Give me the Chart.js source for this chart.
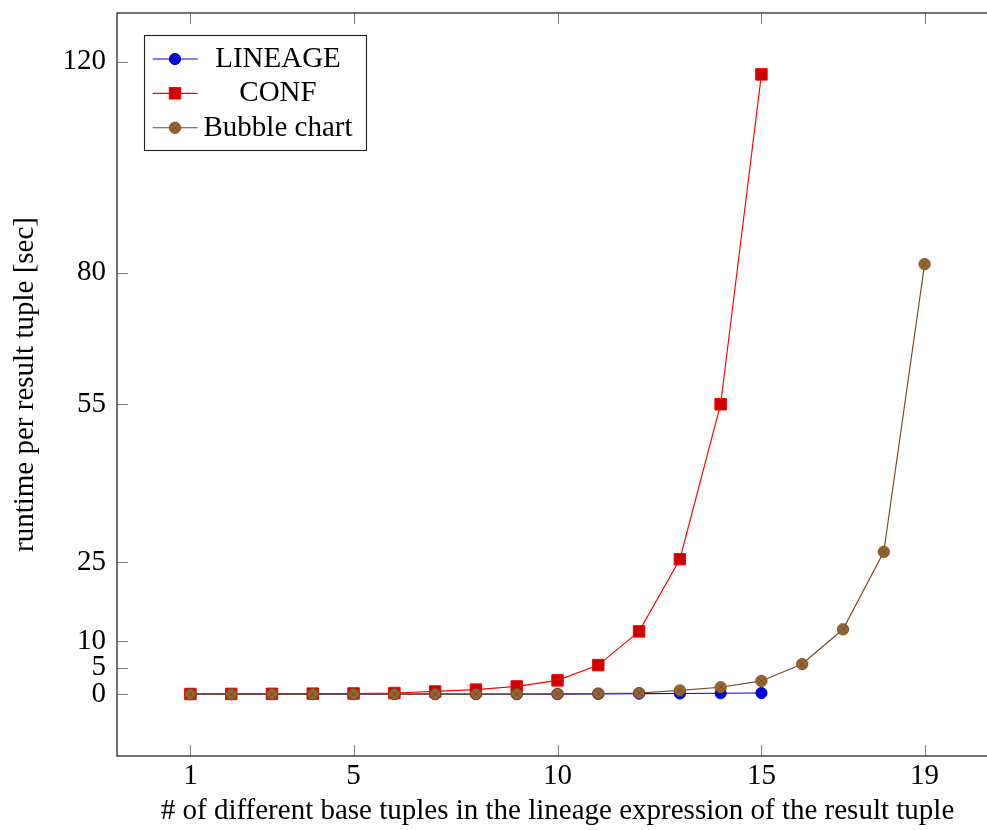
<!DOCTYPE html>
<html><head><meta charset="utf-8">
<script src="https://cdn.jsdelivr.net/npm/chart.js@4.4.1/dist/chart.umd.min.js"></script>
<style>
html,body{margin:0;padding:0;overflow:hidden;background:#fff;width:987px;height:830px}
#wrap{position:absolute;left:0;top:0;width:1000px;height:830px}
</style></head><body>
<div id="wrap"><canvas id="c" width="1000" height="830"></canvas></div>
<script>
// ---- data ----
const xValues = [1,2,3,4,5,6,7,8,9,10,11,12,13,14,15,16,17,18,19];
const lineageValues = [0,0,0,0,0,0,0,0,0,0,0.05,0.08,0.12,0.16,0.2];
const confValues = [0.02,0.03,0.05,0.08,0.12,0.2,0.5,0.85,1.45,2.6,5.5,11.9,25.6,55,117.6];
const bubbleValues = [0,0,0,0,0,0,0,0,0,0.05,0.1,0.2,0.7,1.3,2.5,5.7,12.3,27,81.6];
const xTicks = [1,5,10,15,19];
const yTicks = [0,5,10,25,55,80,120];
const seriesNames = ['LINEAGE','CONF','Bubble chart'];
const xTitle = '# of different base tuples in the lineage expression of the result tuple';
const yTitle = 'runtime per result tuple [sec]';

const FONT = 'Liberation Serif';
const FS = 29;

function pts(vals){ return vals.map((v,i)=>({x:xValues[i], y:v})); }

function makeOtimes(r, fill, stroke){
  const s = 16;
  const c = document.createElement('canvas');
  c.width = s; c.height = s;
  const g = c.getContext('2d');
  const cx = s/2, cy = s/2;
  g.beginPath(); g.arc(cx, cy, r, 0, Math.PI*2);
  g.fillStyle = fill; g.fill();
  g.lineWidth = 1; g.strokeStyle = stroke; g.stroke();
  const d = r*0.7071;
  g.beginPath();
  g.moveTo(cx-d, cy-d); g.lineTo(cx+d, cy+d);
  g.moveTo(cx+d, cy-d); g.lineTo(cx-d, cy+d);
  g.stroke();
  return c;
}
const otimes = makeOtimes(5.6, 'rgb(153,102,51)', 'rgb(115,77,38)');

const frameTicks = {
  id: 'frameTicks',
  afterDatasetsDraw(chart){
    const {ctx, chartArea:a, scales} = chart;
    ctx.save();
    ctx.strokeStyle = 'rgb(128,128,128)';
    ctx.lineWidth = 1;
    const L = 11;
    ctx.beginPath();
    xTicks.forEach(v=>{
      const px = Math.round(scales.x.getPixelForValue(v)) + 0.5;
      ctx.moveTo(px, a.bottom); ctx.lineTo(px, a.bottom - L);
      ctx.moveTo(px, a.top); ctx.lineTo(px, a.top + L);
    });
    yTicks.forEach(v=>{
      const py = Math.round(scales.y.getPixelForValue(v)) + 0.5;
      ctx.moveTo(a.left, py); ctx.lineTo(a.left + L, py);
      ctx.moveTo(a.right, py); ctx.lineTo(a.right - L, py);
    });
    ctx.stroke();
    ctx.strokeStyle = 'rgb(40,40,40)';
    ctx.lineWidth = 1.3;
    ctx.strokeRect(a.left, a.top, a.right - a.left, a.bottom - a.top);
    ctx.restore();
  }
};

const legendBox = {
  id: 'legendBox',
  afterDraw(chart){
    const ctx = chart.ctx;
    const x0 = 144.5, y0 = 35.5, w = 222, h = 115;
    ctx.save();
    ctx.fillStyle = '#fff';
    ctx.fillRect(x0, y0, w, h);
    ctx.strokeStyle = 'rgb(30,30,30)';
    ctx.lineWidth = 1.1;
    ctx.strokeRect(x0, y0, w, h);
    const rows = [59, 93.3, 127.7];
    chart.data.datasets.forEach((ds, i)=>{
      const y = rows[i];
      ctx.strokeStyle = ds.borderColor;
      ctx.lineWidth = 1.15;
      ctx.beginPath(); ctx.moveTo(152.7, y); ctx.lineTo(197.7, y); ctx.stroke();
      const mx = 175;
      if (ds.pointStyle === 'circle'){
        ctx.beginPath(); ctx.arc(mx, y, ds.pointRadius, 0, Math.PI*2);
        ctx.fillStyle = ds.pointBackgroundColor; ctx.fill();
        ctx.strokeStyle = ds.pointBorderColor; ctx.lineWidth = 1; ctx.stroke();
      } else if (ds.pointStyle === 'rect'){
        const hs = ds.pointRadius*Math.SQRT1_2;
        ctx.fillStyle = ds.pointBackgroundColor;
        ctx.fillRect(mx-hs, y-hs, 2*hs, 2*hs);
        ctx.strokeStyle = ds.pointBorderColor; ctx.lineWidth = 1;
        ctx.strokeRect(mx-hs, y-hs, 2*hs, 2*hs);
      } else {
        ctx.drawImage(ds.pointStyle, mx - ds.pointStyle.width/2, y - ds.pointStyle.height/2);
      }
      ctx.fillStyle = '#000';
      ctx.font = FS + 'px "' + FONT + '"';
      ctx.textAlign = 'center';
      ctx.textBaseline = 'alphabetic';
      ctx.fillText(ds.label, 278, y + 8);
    });
    ctx.restore();
  }
};

new Chart(document.getElementById('c'), {
  type: 'line',
  data: {
    datasets: [
      { label: seriesNames[0], data: pts(lineageValues), order: 2,
        borderColor: 'rgb(0,0,255)', borderWidth: 1.15,
        pointStyle: 'circle', pointRadius: 5.6,
        pointBackgroundColor: 'rgb(0,0,204)', pointBorderColor: 'rgb(0,0,255)', pointBorderWidth: 1 },
      { label: seriesNames[1], data: pts(confValues), order: 1,
        borderColor: 'rgb(255,0,0)', borderWidth: 1.15,
        pointStyle: 'rect', pointRadius: 8.1,
        pointBackgroundColor: 'rgb(204,0,0)', pointBorderColor: 'rgb(255,0,0)', pointBorderWidth: 1 },
      { label: seriesNames[2], data: pts(bubbleValues), order: 0,
        borderColor: 'rgb(115,77,38)', borderWidth: 1.15,
        pointStyle: otimes, pointRadius: 5.6,
        pointBackgroundColor: 'rgb(153,102,51)', pointBorderColor: 'rgb(115,77,38)', pointBorderWidth: 1 }
    ]
  },
  options: {
    responsive: false,
    animation: false,
    events: [],
    layout: { autoPadding: false, padding: { top: 13, right: 2, left: 0, bottom: 0 } },
    plugins: { legend: { display: false }, tooltip: { enabled: false } },
    elements: { line: { tension: 0 } },
    scales: {
      x: {
        type: 'linear', min: -0.8, max: 20.8,
        afterBuildTicks: s => { s.ticks = xTicks.map(v => ({ value: v })); },
        afterFit: s => { s.height = 74; s.paddingLeft = 0; s.paddingRight = 0; },
        grid: { display: false, drawTicks: false },
        border: { display: false },
        ticks: { color: '#000', font: { family: FONT, size: FS }, padding: 3, maxRotation: 0, autoSkip: false,
                 callback: v => String(v) },
        title: { display: true, text: xTitle, color: '#000', font: { family: FONT, size: FS },
                 padding: { top: 0, bottom: 1 } }
      },
      y: {
        type: 'linear', min: -11.75, max: 129.25,
        afterBuildTicks: s => { s.ticks = yTicks.map(v => ({ value: v })); },
        afterFit: s => { s.width = 117; s.paddingTop = 0; s.paddingBottom = 0; },
        grid: { display: false, drawTicks: false },
        border: { display: false },
        ticks: { color: '#000', font: { family: FONT, size: FS }, padding: 11, autoSkip: false,
                 callback: v => String(v) },
        title: { display: true, text: yTitle, color: '#000', font: { family: FONT, size: FS },
                 padding: { top: 8, bottom: 0 } }
      }
    }
  },
  plugins: [frameTicks, legendBox]
});
</script>
</body></html>
